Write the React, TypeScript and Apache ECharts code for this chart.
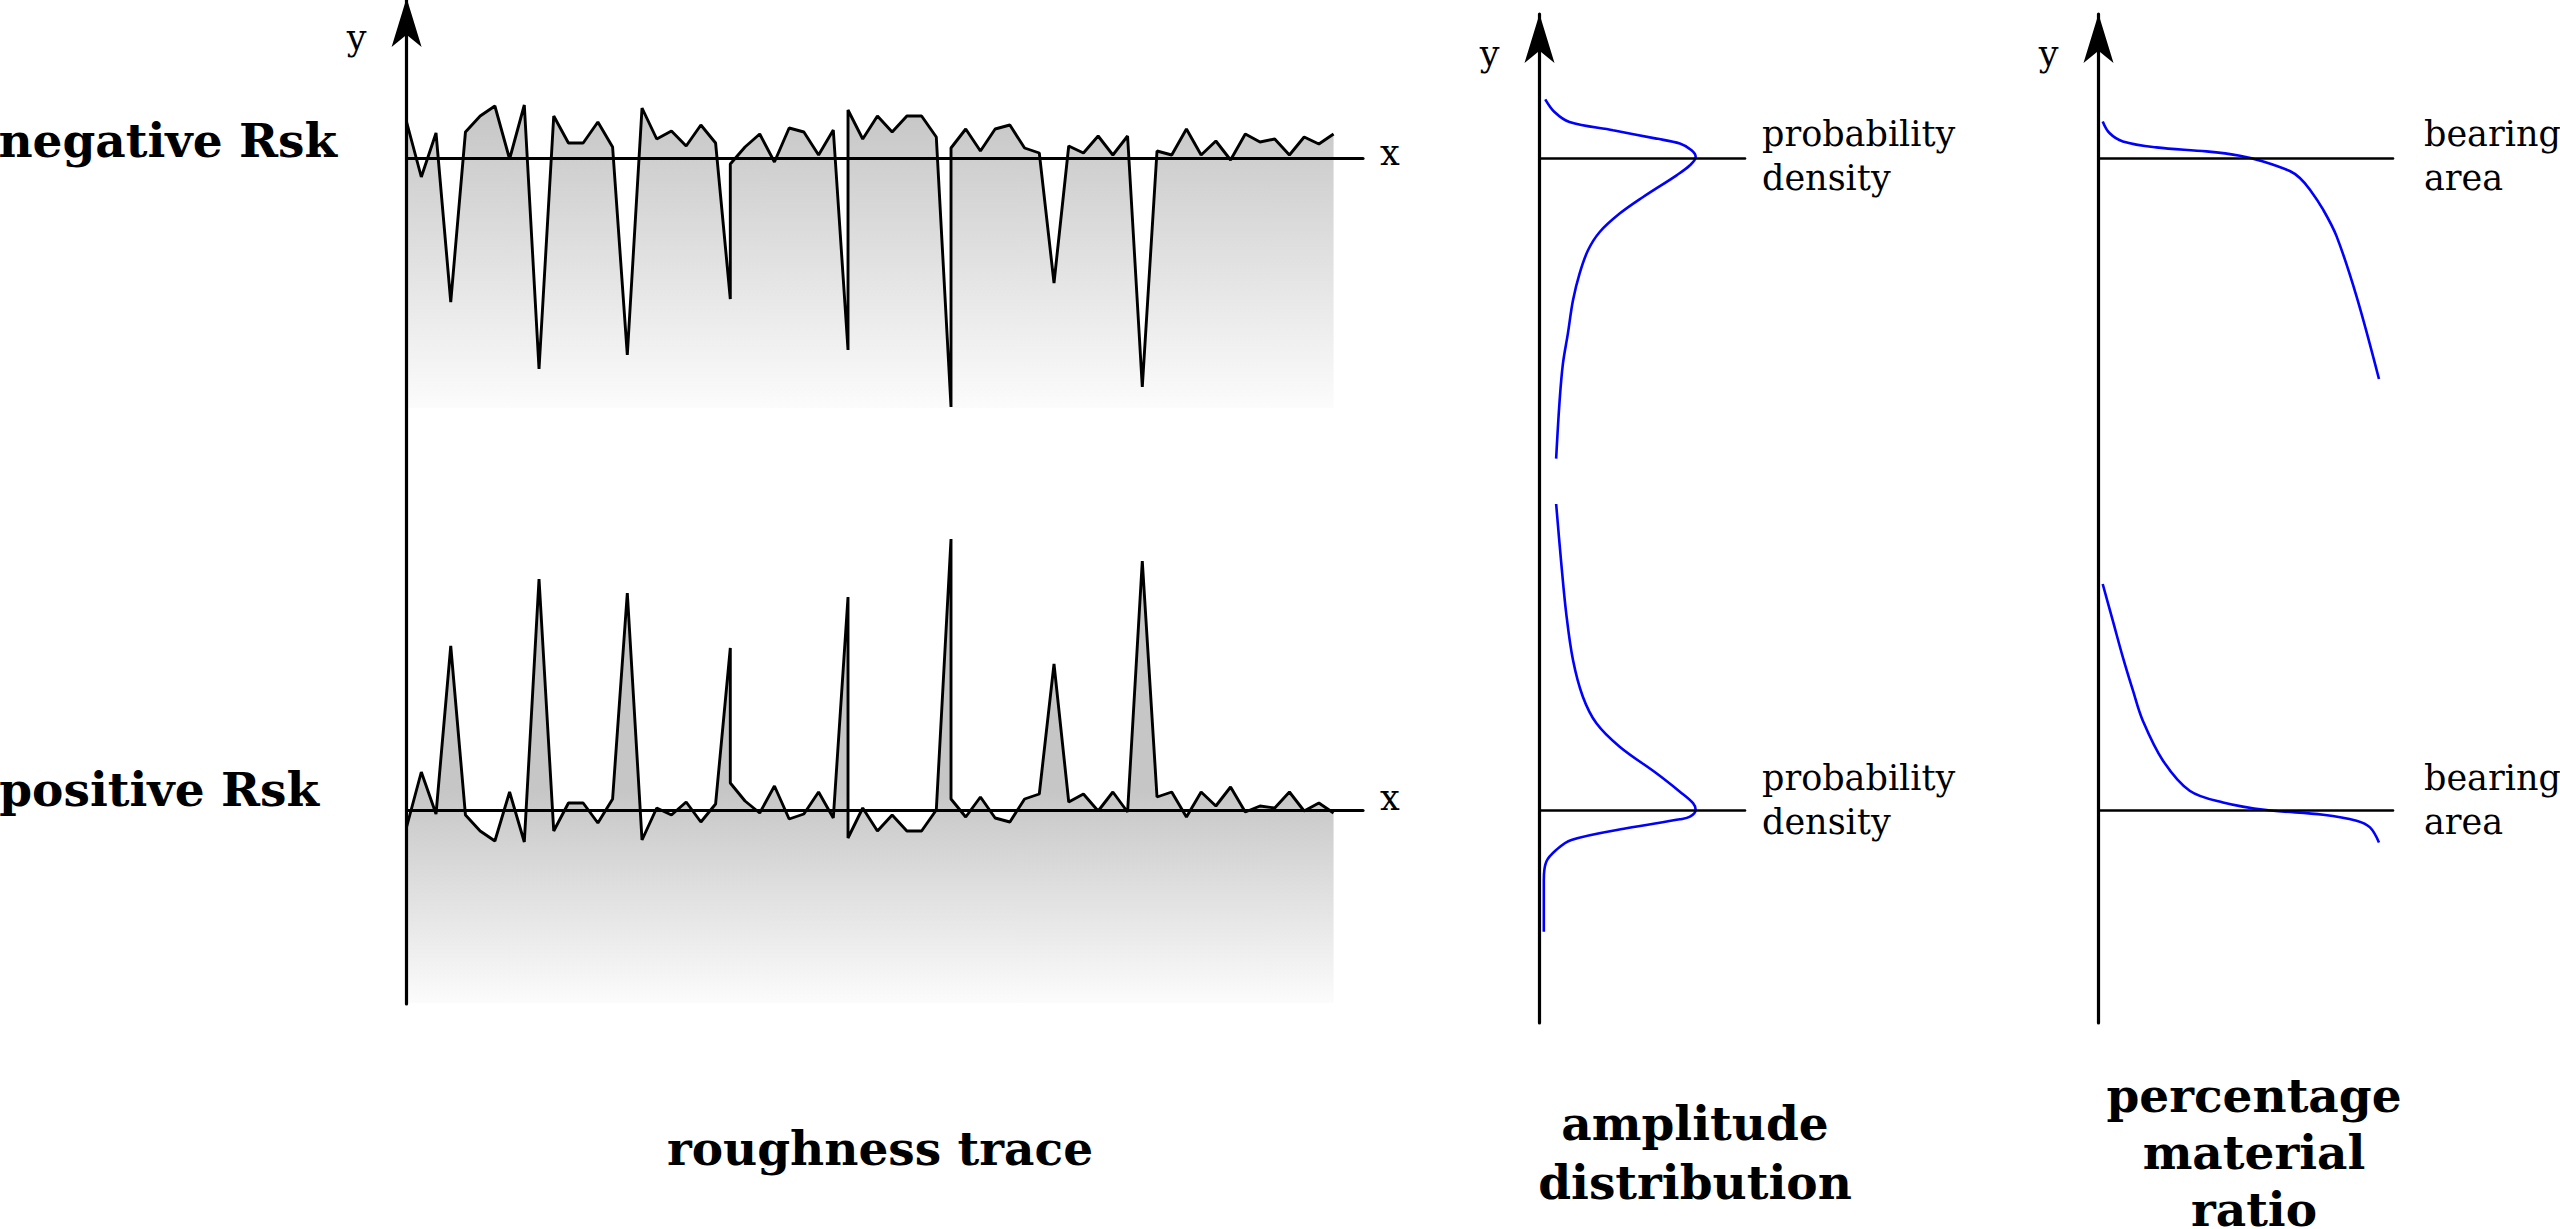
import React, { useEffect, useRef } from "react";
import * as echarts from "echarts";

// ---------- DATA ----------
// sample positions along the roughness trace (duplicated positions = vertical flanks)
const traceX = [0, 1, 2, 3, 4, 5, 6, 7, 8, 9, 10, 11, 12, 13, 14, 15, 16, 17, 18, 19, 20, 21, 22, 22, 23, 24, 25, 26, 27, 28, 29, 30, 30, 31, 32, 33, 34, 35, 36, 37, 37, 38, 39, 40, 41, 42, 43, 44, 45, 46, 47, 48, 49, 50, 51, 52, 53, 54, 55, 56, 57, 58, 59, 60, 61, 62, 63];

const negativeRsk = [
  0.36, -0.19, 0.25, -1.44, 0.26, 0.42, 0.52, -0.01, 0.53, -2.11,
  0.42, 0.15, 0.15, 0.36, 0.11, -1.97, 0.5, 0.19, 0.27, 0.12,
  0.33, 0.15, -1.41, -0.06, 0.11, 0.24, -0.04, 0.3, 0.26, 0.03,
  0.28, -1.92, 0.48, 0.19, 0.42, 0.26, 0.42, 0.42, 0.21, -2.49,
  0.1, 0.29, 0.07, 0.29, 0.33, 0.1, 0.05, -1.25, 0.12, 0.05,
  0.22, 0.03, 0.22, -2.29, 0.07, 0.03, 0.29, 0.03, 0.17, -0.02,
  0.24, 0.16, 0.19, 0.03, 0.21, 0.14, 0.24,
];

const positiveRsk = [
  -0.17, 0.38, -0.04, 1.64, -0.05, -0.21, -0.31, 0.18, -0.32, 2.31,
  -0.21, 0.07, 0.07, -0.13, 0.11, 2.17, -0.3, 0.02, -0.05, 0.08,
  -0.12, 0.06, 1.62, 0.27, 0.09, -0.03, 0.24, -0.09, -0.04, 0.18,
  -0.08, 2.13, -0.28, 0.02, -0.21, -0.05, -0.21, -0.21, 0.0, 2.71,
  0.11, -0.07, 0.13, -0.08, -0.12, 0.11, 0.16, 1.46, 0.08, 0.16,
  -0.01, 0.18, -0.02, 2.49, 0.13, 0.18, -0.07, 0.18, 0.04, 0.23,
  -0.02, 0.04, 0.02, 0.18, -0.01, 0.07, -0.03,
];

// amplitude distribution (density vs height)
const negDensity = [0.028, 0.073, 0.146, 0.358, 0.569, 0.683, 0.74, 0.76, 0.732, 0.667, 0.504, 0.39, 0.293, 0.236, 0.195, 0.163, 0.138, 0.114, 0.098, 0.081];
const negDensityHeight = [0.587, 0.46, 0.36, 0.277, 0.194, 0.144, 0.077, 0.01, -0.073, -0.173, -0.39, -0.556, -0.74, -0.923, -1.156, -1.423, -1.756, -2.056, -2.423, -3.006];
const posDensity = [0.081, 0.106, 0.13, 0.163, 0.211, 0.277, 0.39, 0.569, 0.683, 0.748, 0.76, 0.732, 0.683, 0.423, 0.155, 0.081, 0.033, 0.021, 0.021];
const posDensityHeight = [3.06, 2.467, 1.967, 1.5, 1.133, 0.867, 0.633, 0.367, 0.183, 0.067, 0, -0.067, -0.093, -0.183, -0.3, -0.4, -0.517, -0.7, -1.217];

// percentage material ratio (bearing area curve)
const negRatio = [1.5, 3.9, 8.7, 20.6, 38.5, 50.4, 58.7, 68.2, 71.8, 75.4, 80.1, 84.9, 92.0, 100];
const negRatioHeight = [0.366, 0.25, 0.166, 0.106, 0.066, 0.023, -0.034, -0.13, -0.2, -0.317, -0.517, -0.784, -1.384, -2.21];
const posRatio = [1.5, 5.1, 8.7, 12.3, 15.8, 23.0, 32.5, 44.4, 59.9, 80.1, 92.0, 96.8, 100];
const posRatioHeight = [2.26, 1.893, 1.526, 1.193, 0.893, 0.493, 0.193, 0.076, 0, -0.047, -0.107, -0.174, -0.324];

const rowLabels = ["negative Rsk", "positive Rsk"];
const panelTitles = ["roughness trace", "amplitude\ndistribution", "percentage\nmaterial\nratio"];
const densityLabel = "probability\ndensity";
const bearingLabel = "bearing\narea";

// ---------- HELPERS ----------
const FONT = "DejaVu Serif";
const SMALL = 35;
const BIG = 47;
const zip = (xs: number[], ys: number[]) => xs.map((x, i) => [x, ys[i]]);

function label(text: string, x: number, baseline: number, fs: number, lh: number, bold: boolean, align: string) {
  return {
    type: "text",
    x,
    y: baseline - 0.346 * fs - lh / 2,
    silent: true,
    style: {
      text,
      fill: "#000",
      fontFamily: FONT,
      fontSize: fs,
      fontWeight: bold ? "bold" : "normal",
      lineHeight: lh,
      align,
      verticalAlign: "top",
    },
  };
}

const arrowY = (gridIndex: number) => ({
  gridIndex,
  type: "value",
  min: 0,
  max: 1,
  position: "left",
  axisLine: {
    show: true,
    onZero: false,
    symbol: ["none", "arrow"],
    symbolSize: [22.5, 49],
    lineStyle: { color: "#000", width: 3.2 },
  },
  axisTick: { show: false },
  axisLabel: { show: false },
  splitLine: { show: false },
  name: "y",
  nameLocation: "end",
  nameGap: -39.5,
  nameTextStyle: {
    fontFamily: FONT,
    fontSize: SMALL,
    color: "#000",
    align: "right",
    verticalAlign: "middle",
    padding: [0, 40, 0, 0],
  },
  z: 3,
});

const hiddenX = (gridIndex: number) => ({ gridIndex, type: "value", min: 0, max: 1, show: false });
const hiddenY = (gridIndex: number, min: number, max: number) => ({ gridIndex, type: "value", min, max, show: false });

const baseX = (gridIndex: number, max: number, width: number, name: string, nameLineHeight: number) => ({
  gridIndex,
  type: "value",
  min: 0,
  max,
  axisLine: { show: true, onZero: true, lineStyle: { color: "#000", width } },
  axisTick: { show: false },
  axisLabel: { show: false },
  splitLine: { show: false },
  name,
  nameLocation: "end",
  nameGap: 17,
  nameTextStyle: {
    fontFamily: FONT,
    fontSize: SMALL,
    color: "#000",
    verticalAlign: "bottom",
    lineHeight: nameLineHeight,
  },
  z: 3,
});

const grey = (y1: number, y2: number) =>
  new echarts.graphic.LinearGradient(0, y1, 0, y2, [
    { offset: 0, color: "#c6c6c6" },
    { offset: 1, color: "#fcfcfc" },
  ], true);

const blueLine = (xi: number, data: number[][]) => ({
  type: "line",
  xAxisIndex: xi,
  yAxisIndex: xi,
  data,
  symbol: "none",
  smooth: 0.35,
  clip: false,
  lineStyle: { color: "#0000ff", width: 2.6 },
  z: 2,
});

export default function App() {
  const ref = useRef<HTMLDivElement>(null);

  useEffect(() => {
    if (!ref.current) return;
    const chart = echarts.init(ref.current, undefined, { renderer: "svg" });

    const option: any = {
      animation: false,
      backgroundColor: "#ffffff",
      grid: [
        { left: 406.6, top: -2, width: 10, height: 1006, outerBoundsMode: "none" },
        { left: 406.6, top: 98, width: 956.4, height: 310, outerBoundsMode: "none" },
        { left: 406.6, top: 530, width: 956.4, height: 473, outerBoundsMode: "none" },
        { left: 1539.5, top: 14, width: 10, height: 1009, outerBoundsMode: "none" },
        { left: 1539.5, top: 98, width: 205.5, height: 370, outerBoundsMode: "none" },
        { left: 1539.5, top: 500, width: 205.5, height: 440, outerBoundsMode: "none" },
        { left: 2098.5, top: 14, width: 10, height: 1009, outerBoundsMode: "none" },
        { left: 2098.5, top: 98, width: 294.5, height: 300, outerBoundsMode: "none" },
        { left: 2098.5, top: 570, width: 294.5, height: 290, outerBoundsMode: "none" },
      ],
      xAxis: [
        hiddenX(0),
        baseX(1, 65, 3.2, "x", 11),
        baseX(2, 65, 3.2, "x", 25),
        hiddenX(3),
        baseX(4, 1, 2.6, "", 35),
        baseX(5, 1, 2.6, "", 35),
        hiddenX(6),
        baseX(7, 105, 2.6, "", 35),
        baseX(8, 105, 2.6, "", 35),
      ],
      yAxis: [
        arrowY(0),
        hiddenY(1, -2.5, 0.6),
        hiddenY(2, -1.93, 2.8),
        arrowY(3),
        hiddenY(4, -3.1, 0.6),
        hiddenY(5, -1.3, 3.1),
        arrowY(6),
        hiddenY(7, -2.4, 0.6),
        hiddenY(8, -0.5, 2.4),
      ],
      series: [
        {
          type: "line",
          xAxisIndex: 1,
          yAxisIndex: 1,
          data: zip(traceX, negativeRsk),
          symbol: "none",
          clip: false,
          lineStyle: { color: "#000", width: 2.9 },
          areaStyle: { origin: "start", opacity: 1, color: grey(110, 410) },
          z: 2,
        },
        {
          type: "line",
          xAxisIndex: 2,
          yAxisIndex: 2,
          data: zip(traceX, positiveRsk),
          symbol: "none",
          clip: false,
          lineStyle: { color: "#000", width: 2.9 },
          areaStyle: { origin: "start", opacity: 1, color: grey(790, 1005) },
          z: 2,
        },
        blueLine(4, zip(negDensity, negDensityHeight)),
        blueLine(5, zip(posDensity, posDensityHeight)),
        blueLine(7, zip(negRatio, negRatioHeight)),
        blueLine(8, zip(posRatio, posRatioHeight)),
      ],
      graphic: {
        elements: [
          label(rowLabels[0], 337, 157, BIG, 59, true, "right"),
          label(rowLabels[1], 319, 806, BIG, 59, true, "right"),
          label(panelTitles[0], 880, 1165, BIG, 59, true, "center"),
          label(panelTitles[1], 1695, 1140, BIG, 59, true, "center"),
          label(panelTitles[2], 2254, 1112, BIG, 57, true, "center"),
          label(densityLabel, 1762, 146, SMALL, 44, false, "left"),
          label(densityLabel, 1762, 790, SMALL, 44, false, "left"),
          label(bearingLabel, 2424, 146, SMALL, 44, false, "left"),
          label(bearingLabel, 2424, 790, SMALL, 44, false, "left"),
        ],
      },
    };

    chart.setOption(option);
    return () => chart.dispose();
  }, []);

  return (
    <div
      ref={ref}
      style={{ position: "fixed", left: 0, top: 0, width: 2560, height: 1229, background: "#fff" }}
    />
  );
}
